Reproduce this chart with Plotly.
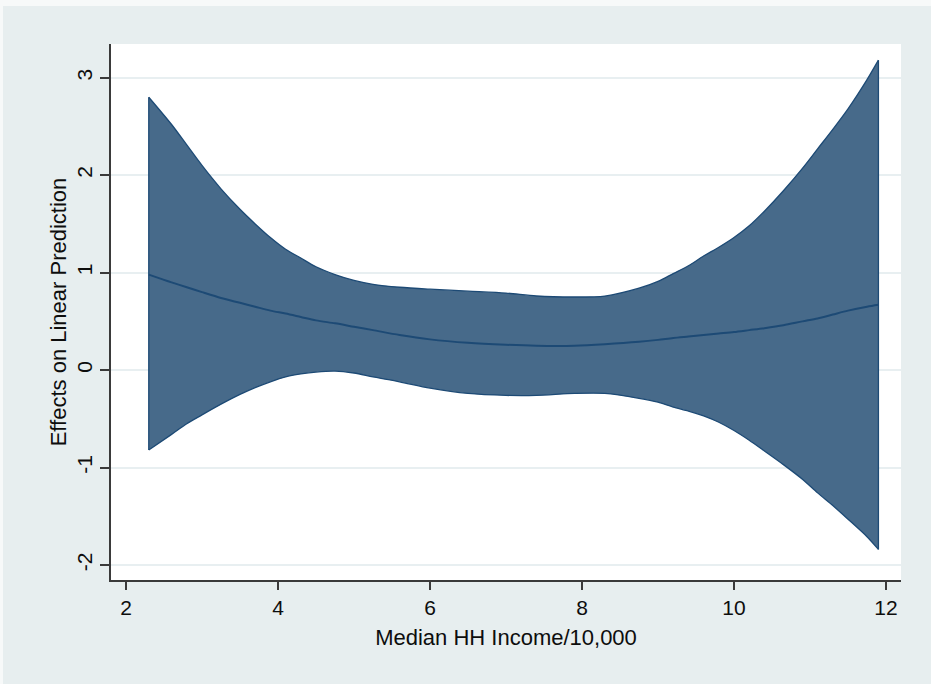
import plotly.graph_objects as go

# Median household income (in units of $10,000)
income = [2.3, 2.6, 2.8, 3.0, 3.25, 3.5, 3.7, 3.9, 4.1, 4.3, 4.5, 4.75, 5.0, 5.25,
          5.6, 6.0, 6.5, 7.0, 7.4, 7.9, 8.3, 8.75, 9.0, 9.2, 9.4, 9.6, 9.8, 10.0,
          10.2, 10.4, 10.65, 10.9, 11.1, 11.3, 11.5, 11.75, 11.9]

# Marginal effect on the linear prediction
effect = [0.98, 0.90, 0.85, 0.80, 0.74, 0.69, 0.65, 0.61, 0.58, 0.545, 0.51, 0.48,
          0.445, 0.41, 0.36, 0.315, 0.28, 0.26, 0.25, 0.25, 0.265, 0.29, 0.31,
          0.33, 0.345, 0.36, 0.375, 0.39, 0.41, 0.43, 0.46, 0.50, 0.53, 0.57,
          0.61, 0.65, 0.67]

# Upper and lower confidence bounds
upper = [2.80, 2.52, 2.31, 2.10, 1.86, 1.65, 1.50, 1.36, 1.24, 1.15, 1.06, 0.98,
         0.92, 0.88, 0.85, 0.83, 0.81, 0.79, 0.76, 0.75, 0.76, 0.84, 0.91, 0.99,
         1.07, 1.17, 1.26, 1.36, 1.48, 1.63, 1.84, 2.07, 2.27, 2.47, 2.68, 2.98,
         3.18]
lower = [-0.82, -0.66, -0.55, -0.46, -0.35, -0.25, -0.18, -0.12, -0.07, -0.04,
         -0.02, -0.01, -0.03, -0.07, -0.12, -0.185, -0.24, -0.26, -0.26, -0.24,
         -0.24, -0.29, -0.33, -0.38, -0.42, -0.47, -0.535, -0.62, -0.72, -0.83,
         -0.97, -1.12, -1.26, -1.39, -1.53, -1.71, -1.84]

x_ticks = [2, 4, 6, 8, 10, 12]
y_ticks = [-2, -1, 0, 1, 2, 3]

W, H = 931, 684
L, R, T, B = 111, 30, 44, 104

FILL = "#476a8a"
EDGE = "#1d4a75"
BG = "#e7eeef"
GRID = "#e8eff1"
AXIS = "#3a3a3a"
TEXT = "#0d0d0d"
FONT = "Liberation Sans, Arial, Helvetica, sans-serif"

fig = go.Figure()

# Confidence band: lower bound, then upper bound filled down to it
fig.add_trace(go.Scatter(
    x=income, y=lower, mode="lines",
    line=dict(color=EDGE, width=1.3, shape="spline", smoothing=0.8),
    hoverinfo="skip", showlegend=False,
))
fig.add_trace(go.Scatter(
    x=income, y=upper, mode="lines",
    fill="tonexty", fillcolor=FILL,
    line=dict(color=EDGE, width=1.3, shape="spline", smoothing=0.8),
    hoverinfo="skip", showlegend=False,
))
# Closing edges at both ends of the band
fig.add_trace(go.Scatter(
    x=[income[0], income[0], None, income[-1], income[-1]],
    y=[lower[0], upper[0], None, lower[-1], upper[-1]],
    mode="lines", line=dict(color=EDGE, width=1.3),
    hoverinfo="skip", showlegend=False,
))

# Point estimate
fig.add_trace(go.Scatter(
    x=income, y=effect, mode="lines",
    line=dict(color=EDGE, width=2, shape="spline", smoothing=0.8),
    showlegend=False,
))

fig.update_xaxes(
    range=[1.803, 12.197],
    tickvals=x_ticks,
    ticktext=[str(v) for v in x_ticks],
    showgrid=False,
    zeroline=False,
    showline=True, linecolor=AXIS, linewidth=1.5,
    ticks="outside", ticklen=8, tickwidth=1.5, tickcolor=AXIS,
    tickfont=dict(family=FONT, size=21, color=TEXT),
    title=dict(text="Median HH Income/10,000",
               font=dict(family=FONT, size=22, color=TEXT),
               standoff=12),
)
fig.update_yaxes(
    range=[-2.154, 3.346],
    tickvals=y_ticks,
    ticktext=[str(v) for v in y_ticks],
    tickangle=-90,
    showgrid=True, gridcolor=GRID, gridwidth=1.5,
    zeroline=False,
    showline=True, linecolor=AXIS, linewidth=1.5,
    ticks="outside", ticklen=9, tickwidth=1.5, tickcolor=AXIS,
    tickfont=dict(family=FONT, size=21, color=TEXT),
    title=dict(text="Effects on Linear Prediction",
               font=dict(family=FONT, size=22, color=TEXT),
               standoff=0),
)

# Thin light edge along the top and left of the graph region
pw, ph = W - L - R, H - T - B
def px_x(p):
    return (p - L) / pw
def px_y(p):
    return (H - B - p) / ph

fig.add_shape(type="rect", xref="paper", yref="paper", layer="below",
              x0=px_x(0), x1=px_x(W), y0=px_y(0), y1=px_y(6),
              fillcolor="#f7f9f9", line=dict(width=0))
fig.add_shape(type="rect", xref="paper", yref="paper", layer="below",
              x0=px_x(0), x1=px_x(3), y0=px_y(0), y1=px_y(H),
              fillcolor="#f7f9f9", line=dict(width=0))

fig.update_layout(
    width=W, height=H,
    margin=dict(l=L, r=R, t=T, b=B, autoexpand=False),
    paper_bgcolor=BG,
    plot_bgcolor="white",
    font=dict(family=FONT),
    showlegend=False,
)

fig.write_html("out.html")
